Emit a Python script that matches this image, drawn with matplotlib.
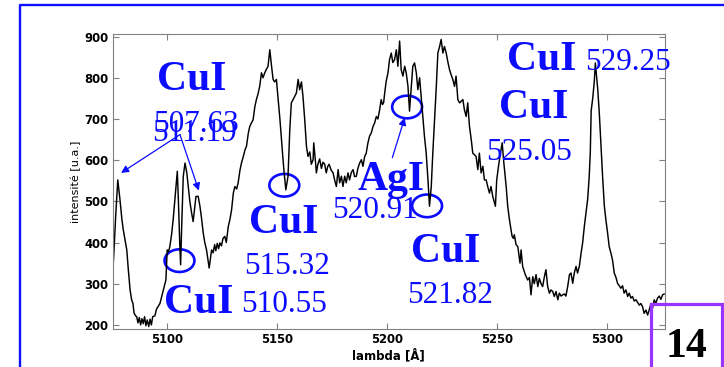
import matplotlib
matplotlib.use("Agg")
import matplotlib.pyplot as plt
from matplotlib.patches import Ellipse, Rectangle
from matplotlib.lines import Line2D

# Emission spectrum: wavelength in angstrom, intensity in arbitrary units
wavelength = [
    5075.0, 5075.6, 5076.5, 5077.4, 5078.4, 5079.3, 5079.9, 5081.0, 5081.5, 5082.2,
    5083.0, 5083.7, 5084.3, 5084.8, 5085.5, 5086.0, 5086.6, 5087.2, 5087.8, 5088.4,
    5089.0, 5089.6, 5090.2, 5090.8, 5091.5, 5092.1, 5092.7, 5093.3, 5094.3, 5095.0,
    5095.8, 5096.6, 5097.4, 5098.3, 5099.3, 5099.9, 5100.5, 5101.1, 5101.9, 5102.6,
    5103.5, 5104.5, 5105.0, 5105.6, 5106.0, 5106.5, 5107.2, 5108.0, 5108.8, 5109.5,
    5110.2, 5111.0, 5111.7, 5112.3, 5113.0, 5114.0, 5114.8, 5115.5, 5116.3, 5117.0,
    5117.8, 5119.0, 5120.1, 5120.8, 5121.5, 5122.0, 5122.7, 5123.3, 5123.9, 5124.6,
    5125.3, 5126.1, 5126.8, 5127.7, 5128.4, 5129.2, 5130.0, 5130.7, 5131.5, 5132.2,
    5133.0, 5133.7, 5134.6, 5135.3, 5136.0, 5136.8, 5137.5, 5138.2, 5139.0, 5139.8,
    5140.5, 5141.2, 5142.0, 5142.8, 5143.5, 5144.3, 5145.0, 5145.8, 5146.6, 5147.4,
    5148.1, 5148.8, 5149.6, 5150.4, 5151.2, 5151.9, 5152.5, 5153.0, 5153.9, 5154.9,
    5155.7, 5156.4, 5157.5, 5158.7, 5159.5, 5160.2, 5161.0, 5161.7, 5162.5, 5163.3,
    5164.0, 5164.8, 5165.5, 5166.3, 5166.6, 5167.5, 5167.8, 5168.5, 5169.3, 5170.1,
    5170.8, 5171.6, 5172.3, 5173.0, 5173.6, 5174.6, 5175.4, 5176.1, 5176.9, 5177.7,
    5178.4, 5179.2, 5179.9, 5180.7, 5181.4, 5182.2, 5182.9, 5183.7, 5184.5, 5185.2,
    5186.0, 5186.7, 5187.5, 5188.3, 5189.0, 5189.8, 5190.5, 5191.2, 5192.0, 5192.8,
    5193.6, 5194.3, 5195.1, 5195.8, 5196.6, 5197.3, 5197.9, 5198.4, 5198.9, 5199.6,
    5200.4, 5201.1, 5201.9, 5202.6, 5203.4, 5204.2, 5204.9, 5205.7, 5206.4, 5207.2,
    5208.0, 5208.7, 5209.5, 5210.2, 5211.0, 5211.7, 5212.5, 5213.3, 5214.0, 5214.8,
    5215.5, 5216.3, 5217.0, 5217.8, 5218.6, 5219.3, 5220.1, 5220.8, 5221.6, 5222.4,
    5223.1, 5223.9, 5224.6, 5225.4, 5226.1, 5226.9, 5227.6, 5228.4, 5229.1, 5229.9,
    5230.7, 5231.4, 5232.2, 5233.0, 5234.5, 5235.2, 5236.0, 5236.7, 5237.5, 5238.3,
    5239.0, 5240.5, 5241.3, 5242.0, 5242.8, 5243.6, 5244.3, 5245.1, 5245.8, 5246.6,
    5247.3, 5248.1, 5249.3, 5249.9, 5250.7, 5251.6, 5252.4, 5253.0, 5254.2, 5254.9,
    5255.7, 5256.9, 5257.5, 5257.9, 5258.7, 5259.5, 5260.5, 5261.0, 5261.7, 5262.9,
    5264.0, 5264.8, 5265.5, 5266.3, 5267.0, 5267.8, 5268.6, 5269.3, 5270.1, 5270.8,
    5271.6, 5272.3, 5273.1, 5273.9, 5274.6, 5275.4, 5276.1, 5276.9, 5277.7, 5278.4,
    5279.2, 5279.9, 5280.7, 5281.4, 5282.2, 5283.0, 5283.7, 5284.5, 5285.2, 5286.0,
    5286.7, 5287.5, 5288.3, 5289.0, 5289.8, 5290.5, 5291.3, 5292.0, 5292.5, 5292.9,
    5293.6, 5294.3, 5294.8, 5295.4, 5295.9, 5296.6, 5297.4, 5298.1, 5298.9, 5299.6,
    5300.4, 5301.1, 5301.9, 5302.6, 5303.4, 5304.2, 5304.9, 5305.7, 5306.4, 5307.2,
    5307.9, 5308.7, 5309.5, 5310.2, 5311.0, 5311.7, 5312.5, 5313.3, 5314.0, 5314.8,
    5315.5, 5316.3, 5317.0, 5317.8, 5318.6, 5319.3, 5320.1, 5320.8, 5321.6, 5322.3,
    5323.1, 5323.9, 5324.6, 5325.4, 5326.1,
]
intensity = [
    318, 372, 470, 552, 504, 455, 431, 398, 382, 334,
    285, 261, 252, 229, 222, 220, 205, 218, 200, 215,
    203, 220, 198, 212, 196, 214, 200, 220, 222, 238,
    245, 252, 269, 288, 309, 382, 378, 390, 420, 455,
    510, 573, 500, 400, 346, 440, 560, 593, 570, 536,
    500, 472, 451, 480, 512, 512, 488, 460, 423, 400,
    382, 338, 382, 375, 395, 380, 398, 385, 399, 392,
    410, 415, 400, 439, 455, 479, 520, 536, 530, 545,
    575, 593, 610, 625, 634, 665, 682, 690, 698, 730,
    747, 760, 779, 812, 800, 812, 820, 828, 868, 828,
    796, 790, 796, 747, 700, 650, 610, 577, 528, 561,
    674, 739, 750, 763, 796, 771, 790, 755, 698, 633,
    609, 620, 590, 601, 642, 590, 569, 590, 603, 580,
    595, 590, 569, 585, 590, 575, 569, 552, 536, 577,
    545, 561, 536, 561, 545, 569, 552, 570, 577, 560,
    561, 580, 593, 601, 585, 609, 617, 640, 658, 666,
    682, 690, 706, 700, 722, 747, 735, 739, 763, 792,
    812, 844, 860, 837, 844, 868, 828, 889, 820, 804,
    828, 812, 779, 719, 779, 828, 836, 812, 771, 800,
    755, 706, 658, 617, 552, 488, 536, 617, 698, 779,
    860, 876, 893, 860, 876, 860, 840, 820, 808, 796,
    779, 804, 747, 739, 747, 722, 706, 739, 682, 650,
    617, 609, 577, 617, 569, 585, 552, 552, 536, 520,
    536, 512, 488, 552, 585, 617, 642, 601, 536, 488,
    455, 415, 410, 419, 395, 390, 350, 382, 342, 322,
    309, 315, 273, 317, 300, 322, 293, 313, 300, 293,
    317, 334, 293, 277, 285, 281, 269, 281, 261, 277,
    270, 273, 275, 270, 293, 322, 326, 301, 326, 342,
    326, 342, 374, 399, 440, 470, 505, 560, 620, 720,
    750, 790, 836, 800, 771, 714, 633, 560, 488, 455,
    422, 390, 374, 358, 326, 315, 301, 295, 289, 295,
    277, 285, 269, 277, 265, 269, 258, 261, 255, 248,
    252, 244, 228, 236, 224, 236, 252, 240, 261, 252,
    265, 270, 262, 273, 275,
]

x_ticks = [5100, 5150, 5200, 5250, 5300]
y_ticks = [200, 300, 400, 500, 600, 700, 800, 900]

# Identified emission lines
species = ["CuI", "CuI", "CuI", "AgI", "CuI", "CuI", "CuI"]
line_nm = [507.63, 511.19, 515.32, 510.55, 520.91, 521.82, 529.25, 525.05]
circled_nm = [510.55, 515.32, 520.91, 521.82]
circle_level = [356, 539, 729, 489]

blue = "#0b0bff"
serif = "Liberation Serif"

fig = plt.figure(figsize=(7.24, 3.67), dpi=100)
ax = fig.add_axes([0.1554, 0.1035, 0.7631, 0.8047])

ax.plot(wavelength, intensity, color="black", lw=1.05)

ax.set_xlim(5075, 5326.5)
ax.set_ylim(190, 907)
ax.set_xticks(x_ticks)
ax.set_yticks(y_ticks)
ax.tick_params(direction="in", length=4, width=0.8, color="#808080",
               labelcolor="black", top=True, right=True, labelsize=8.4, pad=3)
for lab in ax.get_xticklabels() + ax.get_yticklabels():
    lab.set_fontweight("bold")
for sp in ax.spines.values():
    sp.set_color("#808080")
    sp.set_linewidth(0.8)

ax.set_xlabel("lambda [Å]", fontsize=8.5, fontweight="bold", labelpad=2)
ax.set_ylabel("intensité [u.a.]", fontsize=8, labelpad=2)

# Species names
species_xy = [(5095.2, 771), (5137.0, 424), (5098.4, 229), (5186.6, 528),
              (5211.1, 353), (5254.8, 820), (5251.1, 703)]
for name, (x, y) in zip(species, species_xy):
    ax.text(x, y, name, color=blue, family=serif, fontweight="bold",
            fontsize=30, ha="left", va="baseline")

# Wavelength values (nm)
value_xy = [(5093.5, 669), (5093.0, 647), (5134.8, 324), (5133.4, 232),
            (5174.8, 460), (5208.9, 253.5), (5290.2, 820), (5245.2, 601)]
for v, (x, y) in zip(line_nm, value_xy):
    ax.text(x, y, f"{v:.2f}", color=blue, family=serif, fontsize=22.5,
            ha="left", va="baseline")

# Circles around absorbed lines
for v, y in zip(circled_nm, circle_level):
    ax.add_patch(Ellipse((v * 10, y), 13.6, 55, fill=False,
                         edgecolor=blue, lw=1.9, clip_on=False))

# Arrows
arrow_kw = dict(arrowstyle="-|>", color=blue, lw=0.9, mutation_scale=11,
                shrinkA=0, shrinkB=0)
ax.annotate("", xy=(5078.9, 569), xytext=(5105.7, 662), arrowprops=arrow_kw)
ax.annotate("", xy=(5114.3, 526), xytext=(5105.7, 662), arrowprops=arrow_kw)
ax.annotate("", xy=(5208.0, 703), xytext=(5202.4, 606), arrowprops=arrow_kw)

# Slide frame
W, H = 724.0, 367.0
fig.add_artist(Line2D([19.5 / W, 19.5 / W, 1.01], [-0.01, 1 - 5 / H, 1 - 5 / H],
                      transform=fig.transFigure, color="#1010ff", lw=1.7))

# Slide number box
fig.add_artist(Rectangle((650.5 / W, -0.05), (722 - 650.5) / W, 0.05 + 1 - 303.5 / H,
                         transform=fig.transFigure, fill=False,
                         edgecolor="#9933ff", lw=2.3))
fig.text(666 / W, 1 - 357 / H, "14", family=serif, fontweight="bold",
         fontsize=30, color="black", ha="left", va="baseline")

fig.savefig("out.png", dpi=100)
